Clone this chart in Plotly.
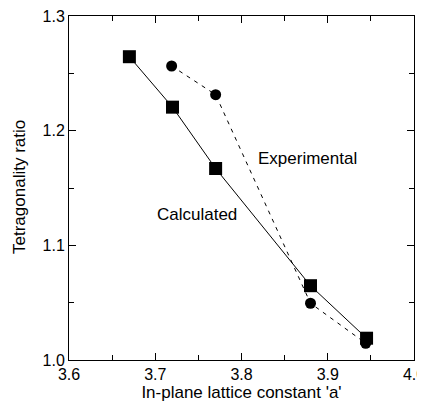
import plotly.graph_objects as go

calc_a = [3.670, 3.720, 3.770, 3.880, 3.945]
calc_ratio = [1.2645, 1.2205, 1.167, 1.0648, 1.019]
exp_a = [3.719, 3.770, 3.880, 3.944]
exp_ratio = [1.2564, 1.2314, 1.0495, 1.0146]

font = "Liberation Sans, Arial, sans-serif"

fig = go.Figure()
fig.add_trace(go.Scatter(x=exp_a, y=exp_ratio, mode="lines+markers",
                         line=dict(color="black", width=1, dash="4px,5px"),
                         marker=dict(symbol="circle", size=11, color="black"),
                         showlegend=False, cliponaxis=False))
fig.add_trace(go.Scatter(x=calc_a, y=calc_ratio, mode="lines+markers",
                         line=dict(color="black", width=1),
                         marker=dict(symbol="square", size=13, color="black"),
                         showlegend=False, cliponaxis=False))

fig.add_annotation(x=3.877, y=1.1753, text="Experimental", showarrow=False,
                   font=dict(family=font, size=17, color="black"))
fig.add_annotation(x=3.748, y=1.1265, text="Calculated", showarrow=False,
                   font=dict(family=font, size=17, color="black"))
# y-axis title placed as a rotated annotation to match the reference position
fig.add_annotation(xref="paper", yref="paper", x=0, y=0.503, xshift=-49,
                   xanchor="center", yanchor="middle", textangle=-90,
                   text="Tetragonality ratio", showarrow=False,
                   font=dict(family=font, size=17, color="black"))

axis_common = dict(showgrid=False, zeroline=False, showline=True, linecolor="black",
                   linewidth=1, mirror="allticks", ticks="inside", ticklen=7,
                   tickcolor="black", automargin=False, ticklabeloverflow="allow",
                   tickfont=dict(family=font, size=16, color="black"),
                   minor=dict(ticks="inside", ticklen=5, tickcolor="black"))

fig.update_xaxes(range=[3.6, 4.0], tickvals=[3.6, 3.7, 3.8, 3.9, 4.0],
                 ticktext=["3.6", "3.7", "3.8", "3.9", "4.0"],
                 title=dict(text="In-plane lattice constant 'a'", font=dict(family=font, size=17, color="black"), standoff=0),
                 **axis_common)
fig.update_xaxes(minor=dict(dtick=0.05, tick0=3.6))
fig.update_yaxes(range=[1.0, 1.3], tickvals=[1.0, 1.1, 1.2, 1.3],
                 ticktext=["1.0", "1.1", "1.2", "1.3"],
                 **axis_common)
fig.update_yaxes(minor=dict(dtick=0.05, tick0=1.0))

# page body has an 8px default margin; compensate so plot area lands at x 69-414, y 16-360
fig.update_layout(width=417, height=404, margin=dict(l=61, r=11, t=8, b=52),
                  plot_bgcolor="white", paper_bgcolor="white",
                  font=dict(family=font, color="black"))
fig.write_html("out.html")
